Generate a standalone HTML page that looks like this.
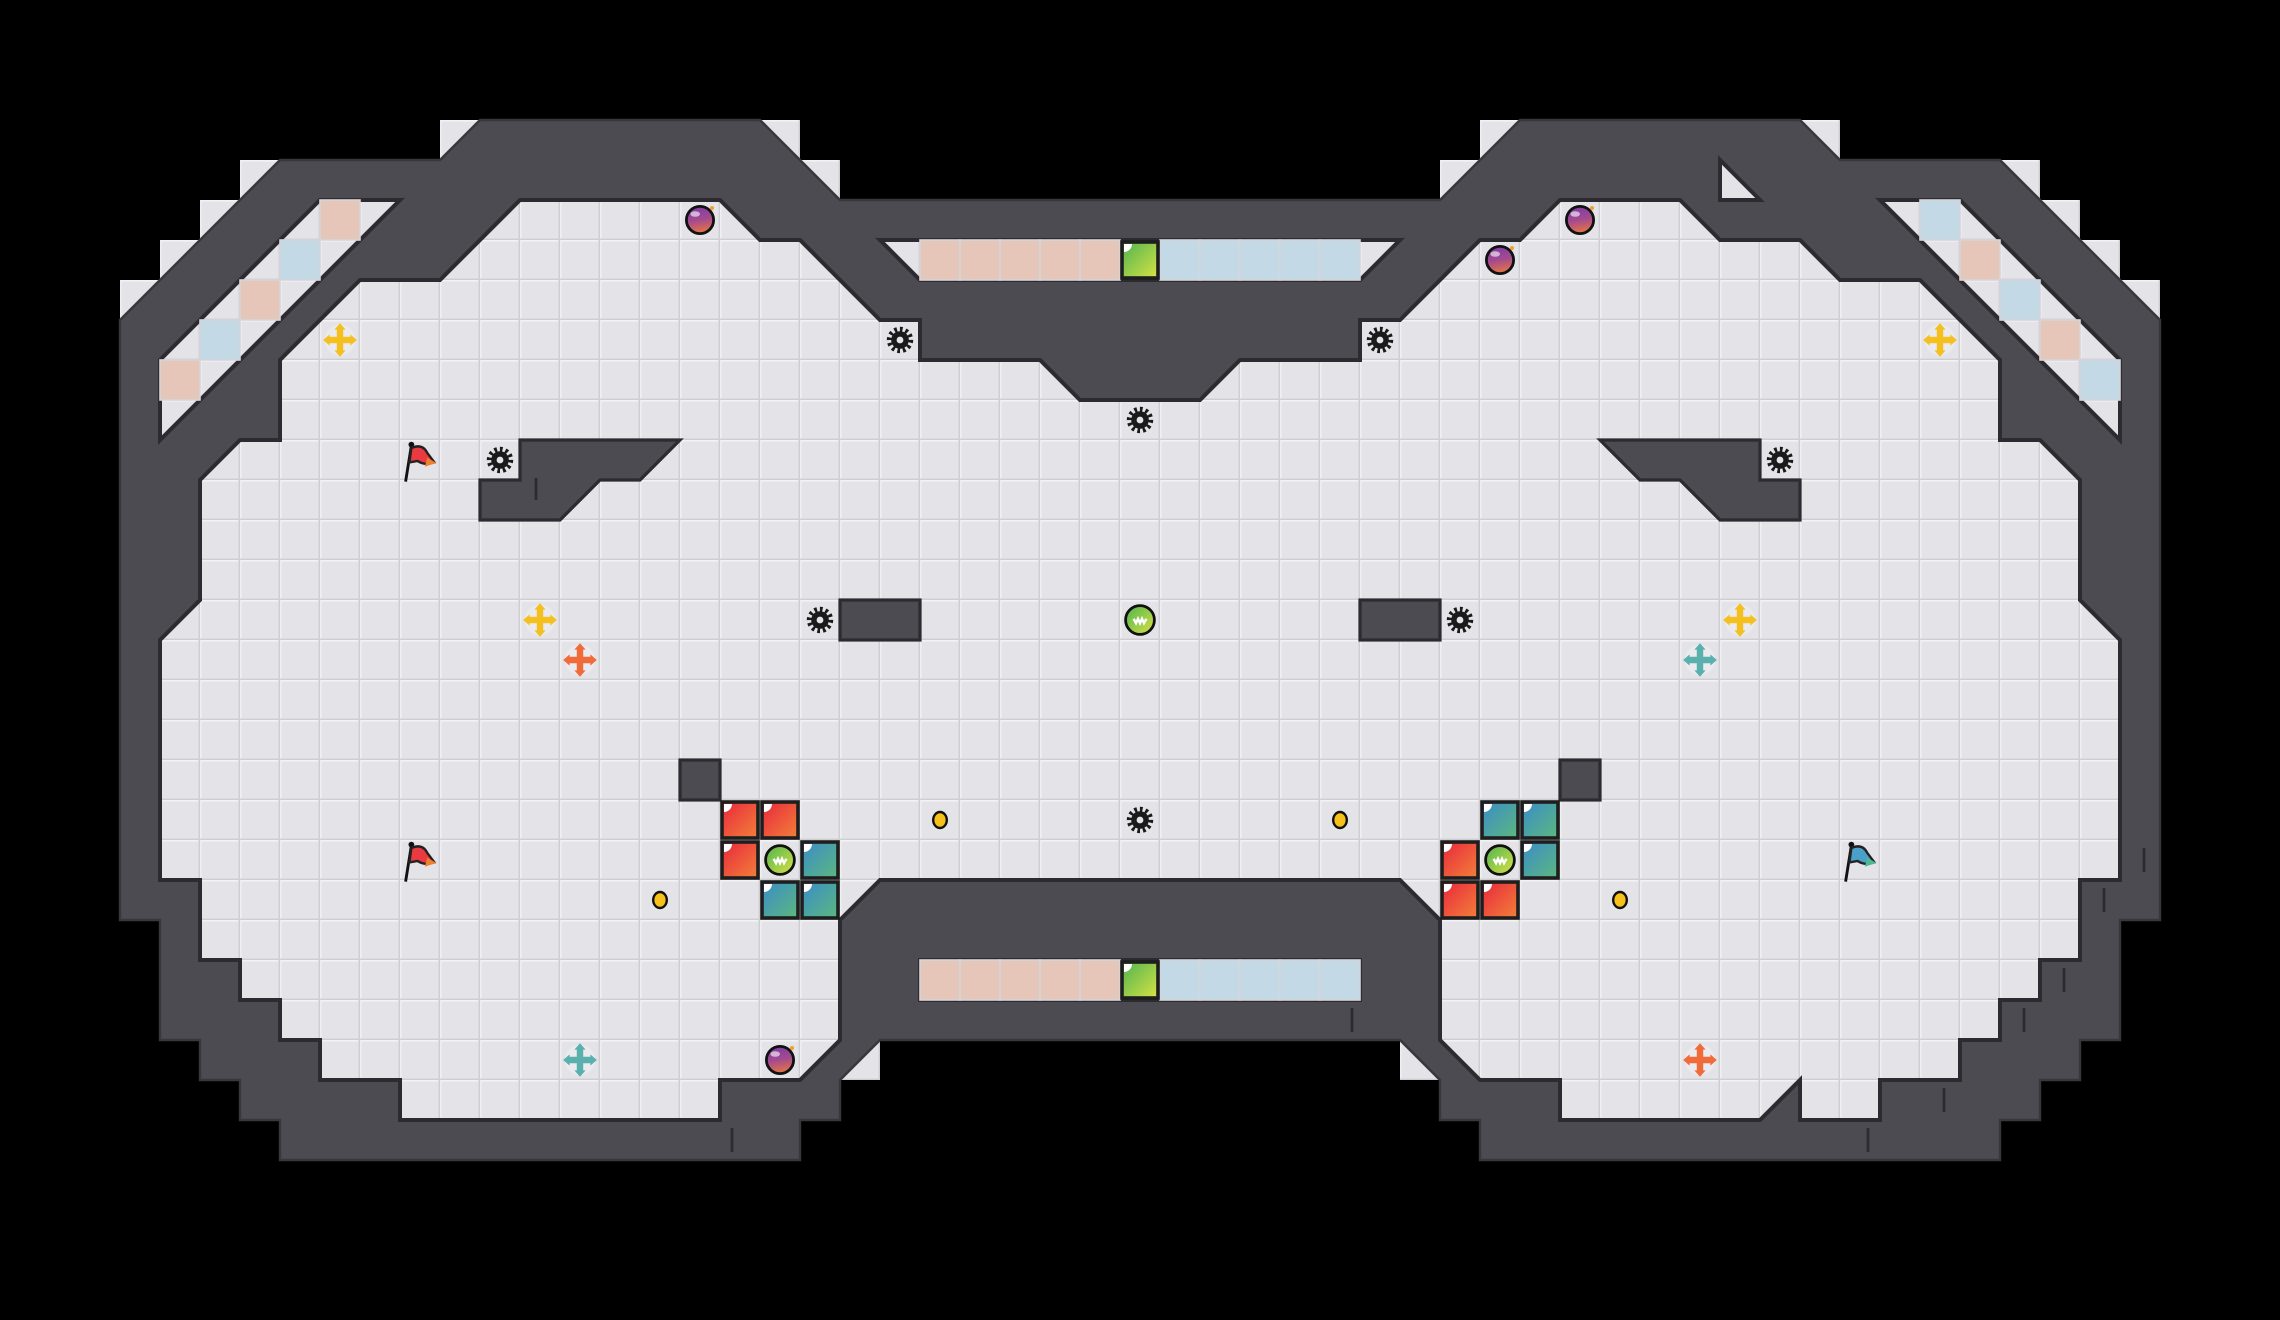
<!DOCTYPE html>
<html><head><meta charset="utf-8"><style>
html,body{margin:0;padding:0;background:#000;}
svg{display:block;}
</style></head><body>
<svg width="2280" height="1320" viewBox="0 0 2280 1320" xmlns="http://www.w3.org/2000/svg">
<defs>
<pattern id="tile" x="0" y="0" width="1" height="1" patternUnits="userSpaceOnUse">
<rect width="1" height="1" fill="#e4e4e8"/>
<rect x="0" y="0" width="1" height="0.04" fill="#f2f2f5"/>
<rect x="0" y="0" width="0.04" height="1" fill="#efeff2"/>
<rect x="0.965" y="0" width="0.035" height="1" fill="#cdcdd2"/>
<rect x="0" y="0.965" width="1" height="0.035" fill="#cdcdd2"/>
</pattern>
<linearGradient id="gRed" x1="0" y1="0" x2="1" y2="1"><stop offset="0" stop-color="#e8283c"/><stop offset="1" stop-color="#f3803a"/></linearGradient>
<linearGradient id="gBlue" x1="0" y1="0" x2="1" y2="1"><stop offset="0" stop-color="#3a8cc8"/><stop offset="1" stop-color="#5cb87e"/></linearGradient>
<linearGradient id="gGreen" x1="0" y1="0" x2="1" y2="1"><stop offset="0" stop-color="#4fb450"/><stop offset="1" stop-color="#d8e244"/></linearGradient>
<linearGradient id="gBomb" x1="0" y1="0" x2="0.2" y2="1"><stop offset="0" stop-color="#7a3aa8"/><stop offset="0.55" stop-color="#a24a90"/><stop offset="1" stop-color="#e0704a"/></linearGradient>
<g id="gear">
<circle r="0.26" fill="none" stroke="#1a1a1a" stroke-width="0.14" stroke-dasharray="0.065 0.07"/>
<circle r="0.22" fill="#1a1a1a"/>
<circle r="0.085" fill="#e4e4e8"/>
</g>
<g id="bomb">
<circle r="0.34" fill="url(#gBomb)" stroke="#111" stroke-width="0.07"/>
<ellipse cx="-0.12" cy="-0.15" rx="0.12" ry="0.07" fill="#fff" opacity="0.6"/>
<circle cx="0.3" cy="-0.3" r="0.05" fill="#f0a030"/>
</g>
<g id="crossY">
<circle r="0.38" fill="#ececf0" opacity="0.8"/>
<path d="M-0.08 -0.28 L-0.08 -0.08 L-0.28 -0.08 L-0.28 0.08 L-0.08 0.08 L-0.08 0.28 L0.08 0.28 L0.08 0.08 L0.28 0.08 L0.28 -0.08 L0.08 -0.08 L0.08 -0.28Z" fill="#f4c020"/>
<path d="M0 -0.42 L-0.14 -0.26 L0.14 -0.26Z M0 0.42 L-0.14 0.26 L0.14 0.26Z M-0.42 0 L-0.26 -0.14 L-0.26 0.14Z M0.42 0 L0.26 -0.14 L0.26 0.14Z" fill="#f4c020"/>
</g>
<g id="crossO">
<circle r="0.38" fill="#ececf0" opacity="0.8"/>
<path d="M-0.08 -0.28 L-0.08 -0.08 L-0.28 -0.08 L-0.28 0.08 L-0.08 0.08 L-0.08 0.28 L0.08 0.28 L0.08 0.08 L0.28 0.08 L0.28 -0.08 L0.08 -0.08 L0.08 -0.28Z" fill="#f06a3a"/>
<path d="M0 -0.42 L-0.14 -0.26 L0.14 -0.26Z M0 0.42 L-0.14 0.26 L0.14 0.26Z M-0.42 0 L-0.26 -0.14 L-0.26 0.14Z M0.42 0 L0.26 -0.14 L0.26 0.14Z" fill="#f06a3a"/>
</g>
<g id="crossT">
<circle r="0.38" fill="#ececf0" opacity="0.8"/>
<path d="M-0.08 -0.28 L-0.08 -0.08 L-0.28 -0.08 L-0.28 0.08 L-0.08 0.08 L-0.08 0.28 L0.08 0.28 L0.08 0.08 L0.28 0.08 L0.28 -0.08 L0.08 -0.08 L0.08 -0.28Z" fill="#5ab0ac"/>
<path d="M0 -0.42 L-0.14 -0.26 L0.14 -0.26Z M0 0.42 L-0.14 0.26 L0.14 0.26Z M-0.42 0 L-0.26 -0.14 L-0.26 0.14Z M0.42 0 L0.26 -0.14 L0.26 0.14Z" fill="#5ab0ac"/>
</g>
<g id="flagR" transform="scale(1.2)">
<line x1="-0.3" y1="0.45" x2="-0.18" y2="-0.3" stroke="#111" stroke-width="0.06"/>
<circle cx="-0.18" cy="-0.32" r="0.06" fill="#111"/>
<path d="M-0.18 -0.25 Q0.05 -0.35 0.15 -0.15 L0.3 0.05 Q0.1 0.12 -0.05 0.02 L-0.22 0.05Z" fill="#e83a40" stroke="#222" stroke-width="0.05"/>
<path d="M0.15 -0.05 L0.34 0.06 L0.1 0.14Z" fill="#f08030"/>
</g>
<g id="flagB" transform="scale(1.2)">
<line x1="-0.3" y1="0.45" x2="-0.18" y2="-0.3" stroke="#111" stroke-width="0.06"/>
<circle cx="-0.18" cy="-0.32" r="0.06" fill="#111"/>
<path d="M-0.18 -0.25 Q0.05 -0.35 0.15 -0.15 L0.3 0.05 Q0.1 0.12 -0.05 0.02 L-0.22 0.05Z" fill="#4aa0c8" stroke="#222" stroke-width="0.05"/>
<path d="M0.15 -0.05 L0.34 0.06 L0.1 0.14Z" fill="#50b890"/>
</g>
<g id="ball">
<circle r="0.36" fill="url(#gGreen)" stroke="#111" stroke-width="0.07"/>
<path d="M-0.16 -0.03 L-0.1 0.08 L-0.05 -0.03 L0 0.08 L0.05 -0.03 L0.1 0.08 L0.16 -0.03" fill="none" stroke="#fff" stroke-width="0.06"/>
</g>
<g id="coin">
<ellipse rx="0.17" ry="0.2" fill="#f6c21a" stroke="#111" stroke-width="0.06"/>
</g>
<g id="red">
<rect x="0.05" y="0.05" width="0.9" height="0.9" fill="url(#gRed)" stroke="#1e1e1e" stroke-width="0.09"/>
<path d="M0.1 0.1 L0.3 0.1 A0.2 0.2 0 0 1 0.1 0.3Z" fill="#fff"/>
</g>
<g id="blue">
<rect x="0.05" y="0.05" width="0.9" height="0.9" fill="url(#gBlue)" stroke="#1e1e1e" stroke-width="0.09"/>
<path d="M0.1 0.1 L0.3 0.1 A0.2 0.2 0 0 1 0.1 0.3Z" fill="#fff"/>
</g>
<g id="gtile">
<rect x="0.05" y="0.05" width="0.9" height="0.9" fill="url(#gGreen)" stroke="#1e1e1e" stroke-width="0.09"/>
<path d="M0.1 0.1 L0.3 0.1 A0.2 0.2 0 0 1 0.1 0.3Z" fill="#fff"/>
</g>
</defs>
<rect width="2280" height="1320" fill="#000"/>
<g transform="translate(120,120) scale(40)">
<g fill="url(#tile)">
<rect x="0" y="4" width="1" height="1"/><rect x="1" y="3" width="1" height="1"/><rect x="2" y="2" width="1" height="1"/><rect x="3" y="1" width="1" height="1"/>
<rect x="8" y="0" width="1" height="1"/><rect x="16" y="0" width="1" height="1"/><rect x="17" y="1" width="1" height="1"/>
<rect x="33" y="1" width="1" height="1"/><rect x="34" y="0" width="1" height="1"/><rect x="42" y="0" width="1" height="1"/>
<rect x="47" y="1" width="1" height="1"/><rect x="48" y="2" width="1" height="1"/><rect x="49" y="3" width="1" height="1"/><rect x="50" y="4" width="1" height="1"/>
<rect x="18" y="23" width="1" height="1"/><rect x="32" y="23" width="1" height="1"/>
</g>
<polygon fill="#4c4b51" stroke="#38373c" stroke-width="0.06" points="0,5 4,1 8,1 9,0 16,0 18,2 33,2 35,0 42,0 43,1 47,1 51,5 51,20 50,20 50,23 49,23 49,24 48,24 48,25 47,25 47,26 34,26 34,25 33,25 33,24 32,23 19,23 18,24 18,25 17,25 17,26 4,26 4,25 3,25 3,24 2,24 2,23 1,23 1,20 0,20"/>
<g fill="url(#tile)" stroke="#2c2b30" stroke-width="0.1" stroke-linejoin="miter">
<polygon points="2,9 3,8 4,8 4,6 6,4 8,4 10,2 15,2 16,3 17,3 19,5 20,5 20,6 23,6 24,7 27,7 28,6 31,6 31,5 32,5 34,3 35,3 36,2 39,2 40,3 42,3 43,4 45,4 47,6 47,8 48,8 49,9 49,12 50,13 50,19 49,19 49,21 48,21 48,22 47,22 47,23 46,23 46,24 44,24 44,25 42,25 42,24 41,25 36,25 36,24 34,24 33,23 33,20 32,19 19,19 18,20 18,23 17,24 15,24 15,25 7,25 7,24 5,24 5,23 4,23 4,22 3,22 3,21 2,21 2,19 1,19 1,13 2,12"/>
<polygon points="1,6 5,2 7,2 1,8"/>
<polygon points="44,2 46,2 50,6 50,8"/>
<polygon points="19,3 32,3 31,4 20,4"/>
<polygon points="20,21 31,21 31,22 20,22"/>
<polygon points="40,1 40,2 41,2"/>
</g>
<g fill="#4c4b51" stroke="#2c2b30" stroke-width="0.08">
<polygon points="10,8 14,8 13,9 12,9 11,10 9,10 9,9 10,9"/>
<polygon points="41,8 37,8 38,9 39,9 40,10 42,10 42,9 41,9"/>
<rect x="18" y="12" width="2" height="1"/>
<rect x="31" y="12" width="2" height="1"/>
<rect x="14" y="16" width="1" height="1"/>
<rect x="36" y="16" width="1" height="1"/>
</g>
<g stroke="#2c2b30" stroke-width="0.07">
<line x1="10.4" y1="8.95" x2="10.4" y2="9.5"/>
<line x1="15.3" y1="25.2" x2="15.3" y2="25.8"/>
<line x1="30.8" y1="22.2" x2="30.8" y2="22.8"/>
<line x1="43.7" y1="25.2" x2="43.7" y2="25.8"/>
<line x1="45.6" y1="24.2" x2="45.6" y2="24.8"/>
<line x1="47.6" y1="22.2" x2="47.6" y2="22.8"/>
<line x1="48.6" y1="21.2" x2="48.6" y2="21.8"/>
<line x1="49.6" y1="19.2" x2="49.6" y2="19.8"/>
<line x1="50.6" y1="18.2" x2="50.6" y2="18.8"/>
</g>
<g stroke="#d6d6da" stroke-width="0.04">
<g fill="#e6c6b8">
<rect x="20" y="3" width="1" height="1"/><rect x="21" y="3" width="1" height="1"/><rect x="22" y="3" width="1" height="1"/><rect x="23" y="3" width="1" height="1"/><rect x="24" y="3" width="1" height="1"/>
<rect x="20" y="21" width="1" height="1"/><rect x="21" y="21" width="1" height="1"/><rect x="22" y="21" width="1" height="1"/><rect x="23" y="21" width="1" height="1"/><rect x="24" y="21" width="1" height="1"/>
<rect x="5" y="2" width="1" height="1"/><rect x="3" y="4" width="1" height="1"/><rect x="1" y="6" width="1" height="1"/>
<rect x="46" y="3" width="1" height="1"/><rect x="48" y="5" width="1" height="1"/>
</g>
<g fill="#c4d9e6">
<rect x="26" y="3" width="1" height="1"/><rect x="27" y="3" width="1" height="1"/><rect x="28" y="3" width="1" height="1"/><rect x="29" y="3" width="1" height="1"/><rect x="30" y="3" width="1" height="1"/>
<rect x="26" y="21" width="1" height="1"/><rect x="27" y="21" width="1" height="1"/><rect x="28" y="21" width="1" height="1"/><rect x="29" y="21" width="1" height="1"/><rect x="30" y="21" width="1" height="1"/>
<rect x="4" y="3" width="1" height="1"/><rect x="2" y="5" width="1" height="1"/>
<rect x="45" y="2" width="1" height="1"/><rect x="47" y="4" width="1" height="1"/><rect x="49" y="6" width="1" height="1"/>
</g>
</g>
<use href="#gtile" x="25" y="3"/>
<use href="#gtile" x="25" y="21"/>
<use href="#red" x="15" y="17"/><use href="#red" x="16" y="17"/><use href="#red" x="15" y="18"/>
<use href="#blue" x="17" y="18"/><use href="#blue" x="16" y="19"/><use href="#blue" x="17" y="19"/>
<use href="#blue" x="34" y="17"/><use href="#blue" x="35" y="17"/><use href="#blue" x="35" y="18"/>
<use href="#red" x="33" y="18"/><use href="#red" x="33" y="19"/><use href="#red" x="34" y="19"/>
<use href="#ball" x="25.5" y="12.5"/>
<use href="#ball" x="16.5" y="18.5"/>
<use href="#ball" x="34.5" y="18.5"/>
<use href="#bomb" x="14.5" y="2.5"/>
<use href="#bomb" x="36.5" y="2.5"/>
<use href="#bomb" x="34.5" y="3.5"/>
<use href="#bomb" x="16.5" y="23.5"/>
<use href="#gear" x="19.5" y="5.5"/>
<use href="#gear" x="31.5" y="5.5"/>
<use href="#gear" x="25.5" y="7.5"/>
<use href="#gear" x="9.5" y="8.5"/>
<use href="#gear" x="41.5" y="8.5"/>
<use href="#gear" x="17.5" y="12.5"/>
<use href="#gear" x="33.5" y="12.5"/>
<use href="#gear" x="25.5" y="17.5"/>
<use href="#crossY" x="5.5" y="5.5"/>
<use href="#crossY" x="45.5" y="5.5"/>
<use href="#crossY" x="10.5" y="12.5"/>
<use href="#crossY" x="40.5" y="12.5"/>
<use href="#crossO" x="11.5" y="13.5"/>
<use href="#crossO" x="39.5" y="23.5"/>
<use href="#crossT" x="39.5" y="13.5"/>
<use href="#crossT" x="11.5" y="23.5"/>
<use href="#flagR" x="7.5" y="8.5"/>
<use href="#flagR" x="7.5" y="18.5"/>
<use href="#flagB" x="43.5" y="18.5"/>
<use href="#coin" x="20.5" y="17.5"/>
<use href="#coin" x="30.5" y="17.5"/>
<use href="#coin" x="13.5" y="19.5"/>
<use href="#coin" x="37.5" y="19.5"/>
</g>
</svg>
</body></html>
